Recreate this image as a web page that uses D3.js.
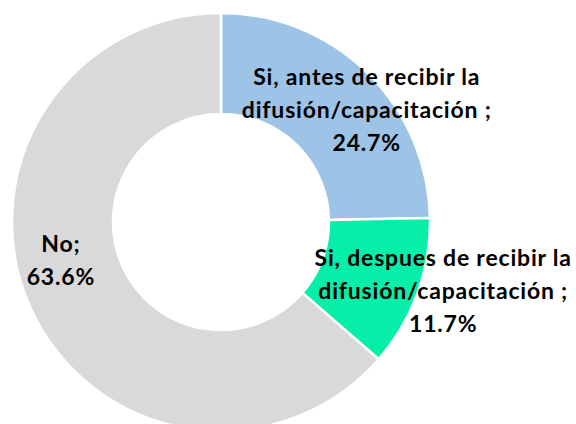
<!DOCTYPE html>
<html>
<head>
<meta charset="utf-8">
<script src="https://cdn.jsdelivr.net/npm/d3@7"></script>
<style>
  html, body { margin: 0; padding: 0; background: #fff; }
  text { font-family: Lato, "Liberation Sans", sans-serif; font-weight: bold; fill: #000; letter-spacing: 0.8px; }
</style>
</head>
<body>
<script>
var width = 576;
var height = 424;

// data
var categories = ["Si, antes de recibir la difusión/capacitación", "Si, despues de recibir la difusión/capacitación", "No"];
var values = [24.7, 11.7, 63.6];
var labelLines = [
  ["Si, antes de recibir la", "difusión/capacitación ;", "24.7%"],
  ["Si, despues de recibir la", "difusión/capacitación ;", "11.7%"],
  ["No;", "63.6%"]
];
var colors = ["#9DC3E6", "#06EFA9", "#D9D9D9"];

// layout
var cx = 221, cy = 222;
var outerR = 209, innerR = 108;
// label position: polar from centre (degrees clockwise from 12 o'clock, radius)
var labelAngle = [52.8, 107.5, 256];
var labelRadius = [183, 233, 165];
var lineGap = 33;

var svg = d3.select("body").append("svg")
  .attr("width", width)
  .attr("height", height);

var g = svg.append("g").attr("transform", "translate(" + cx + "," + cy + ")");

var pie = d3.pie().sort(null).value(function(d) { return d; });
var arc = d3.arc().innerRadius(innerR).outerRadius(outerR);

var arcs = pie(values);

g.selectAll("path.slice")
  .data(arcs)
  .enter().append("path")
  .attr("class", "slice")
  .attr("d", arc)
  .attr("fill", function(d, i) { return colors[i]; })
  .attr("stroke", "#fff")
  .attr("stroke-width", 2.5);

arcs.forEach(function(d, i) {
  var a = labelAngle[i] * Math.PI / 180;
  var x = labelRadius[i] * Math.sin(a);
  var y = -labelRadius[i] * Math.cos(a);
  var lines = labelLines[i];
  var t = g.append("text")
    .attr("text-anchor", "middle")
    .attr("font-size", 23)
    .attr("x", x)
    .attr("y", y - (lines.length - 1) * lineGap / 2 + 7);
  lines.forEach(function(l, j) {
    t.append("tspan")
      .attr("x", x)
      .attr("dy", j === 0 ? 0 : lineGap)
      .text(l);
  });
});
</script>
</body>
</html>
